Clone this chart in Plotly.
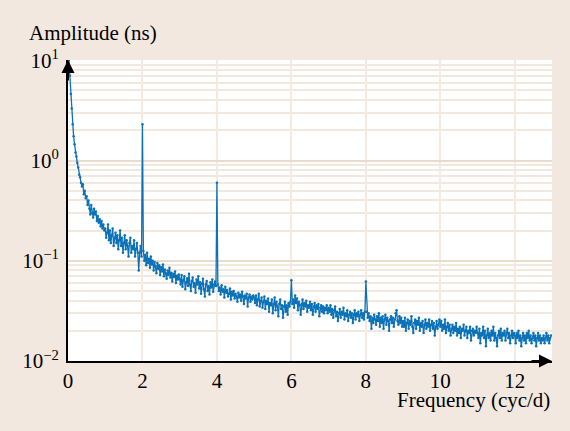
import plotly.graph_objects as go

# ---- data ----
FREQ_STEP = 0.025  # cyc/d sampling of the spectrum
amplitude_ns = [
    # 0.000 - 0.975
    9.5, 10.0, 7.0, 4.6, 3.3, 2.3, 1.75, 1.45, 1.2, 1.1,
    0.95, 0.85, 0.72, 0.68, 0.60, 0.55, 0.58, 0.46, 0.50, 0.42,
    0.44, 0.36, 0.40, 0.33, 0.29, 0.36, 0.30, 0.27, 0.33, 0.29,
    0.31, 0.25, 0.28, 0.24, 0.26, 0.22, 0.25, 0.21, 0.23, 0.20,
    # 1.000 - 1.975
    0.21, 0.17, 0.19, 0.23, 0.16, 0.20, 0.15, 0.18, 0.21, 0.14,
    0.17, 0.19, 0.15, 0.18, 0.13, 0.16, 0.20, 0.14, 0.17, 0.12,
    0.15, 0.18, 0.13, 0.16, 0.14, 0.11, 0.15, 0.17, 0.12, 0.14,
    0.13, 0.16, 0.11, 0.13, 0.15, 0.12, 0.08, 0.12, 0.14, 0.11,
    # 2.000 - 2.975
    2.3, 0.125, 0.10, 0.115, 0.09, 0.12, 0.095, 0.105, 0.085, 0.11,
    0.092, 0.10, 0.08, 0.097, 0.088, 0.075, 0.095, 0.083, 0.09, 0.072,
    0.086, 0.078, 0.092, 0.07, 0.082, 0.075, 0.066, 0.08, 0.072, 0.085,
    0.068, 0.076, 0.062, 0.074, 0.069, 0.078, 0.06, 0.071, 0.065, 0.073,
    # 3.000 - 3.975
    0.066, 0.058, 0.072, 0.055, 0.064, 0.07, 0.052, 0.061, 0.067, 0.056,
    0.074, 0.058, 0.05, 0.063, 0.068, 0.055, 0.06, 0.048, 0.065, 0.058,
    0.07, 0.053, 0.061, 0.047, 0.059, 0.066, 0.052, 0.044, 0.058, 0.063,
    0.05, 0.056, 0.046, 0.061, 0.054, 0.065, 0.049, 0.058, 0.062, 0.056,
    # 4.000 - 4.975
    0.60, 0.058, 0.05, 0.054, 0.046, 0.057, 0.049, 0.052, 0.043, 0.055,
    0.048, 0.051, 0.044, 0.047, 0.053, 0.041, 0.049, 0.045, 0.05, 0.042,
    0.047, 0.044, 0.039, 0.048, 0.043, 0.046, 0.04, 0.049, 0.044, 0.037,
    0.045, 0.042, 0.047, 0.035, 0.043, 0.046, 0.039, 0.044, 0.041, 0.045,
    # 5.000 - 5.975
    0.043, 0.038, 0.045, 0.036, 0.041, 0.047, 0.035, 0.04, 0.043, 0.034,
    0.039, 0.044, 0.033, 0.04, 0.037, 0.042, 0.031, 0.038, 0.036, 0.041,
    0.03, 0.037, 0.043, 0.032, 0.039, 0.035, 0.028, 0.037, 0.041, 0.033,
    0.036, 0.027, 0.035, 0.039, 0.031, 0.036, 0.029, 0.038, 0.035, 0.039,
    # 6.000 - 6.975
    0.064, 0.037, 0.041, 0.034, 0.045, 0.038, 0.042, 0.032, 0.039, 0.036,
    0.029, 0.037, 0.041, 0.033, 0.038, 0.035, 0.04, 0.031, 0.036, 0.034,
    0.039, 0.032, 0.037, 0.029, 0.035, 0.038, 0.031, 0.036, 0.033, 0.037,
    0.028, 0.034, 0.036, 0.031, 0.035, 0.03, 0.034, 0.032, 0.036, 0.03,
    # 7.000 - 7.975
    0.034, 0.031, 0.036, 0.029, 0.033, 0.027, 0.032, 0.035, 0.028, 0.031,
    0.025, 0.03, 0.033, 0.027, 0.031, 0.029, 0.034, 0.026, 0.03, 0.028,
    0.032, 0.025, 0.029, 0.031, 0.027, 0.03, 0.024, 0.029, 0.032, 0.026,
    0.03, 0.028, 0.031, 0.025, 0.029, 0.032, 0.027, 0.03, 0.026, 0.031,
    # 8.000 - 8.975
    0.062, 0.031, 0.027, 0.03, 0.025, 0.028, 0.021, 0.027, 0.024, 0.029,
    0.026, 0.023, 0.028, 0.025, 0.03, 0.022, 0.027, 0.024, 0.028, 0.021,
    0.026, 0.029, 0.023, 0.027, 0.025, 0.02, 0.026, 0.028, 0.024, 0.027,
    0.022, 0.026, 0.03, 0.032, 0.025, 0.023, 0.028, 0.024, 0.027, 0.022,
    # 9.000 - 9.975
    0.025, 0.022, 0.027, 0.02, 0.024, 0.026, 0.021, 0.025, 0.023, 0.028,
    0.022, 0.019, 0.024, 0.026, 0.021, 0.025, 0.023, 0.027, 0.02, 0.024,
    0.022, 0.025, 0.019, 0.023, 0.026, 0.021, 0.024, 0.022, 0.026, 0.02,
    0.023, 0.025, 0.021, 0.024, 0.018, 0.022, 0.025, 0.021, 0.023, 0.026,
    # 10.000 - 10.975
    0.022, 0.025, 0.02, 0.023, 0.021, 0.026, 0.019, 0.022, 0.024, 0.02,
    0.023, 0.018, 0.021, 0.023, 0.019, 0.022, 0.02, 0.024, 0.018, 0.021,
    0.019, 0.022, 0.017, 0.021, 0.02, 0.023, 0.018, 0.02, 0.022, 0.017,
    0.02, 0.019, 0.022, 0.016, 0.02, 0.021, 0.018, 0.02, 0.019, 0.022,
    # 11.000 - 11.975
    0.019, 0.017, 0.021, 0.015, 0.019, 0.018, 0.022, 0.017, 0.02, 0.014,
    0.018, 0.021, 0.017, 0.019, 0.016, 0.02, 0.018, 0.022, 0.016, 0.019,
    0.017, 0.014, 0.018, 0.02, 0.017, 0.021, 0.016, 0.019, 0.018, 0.02,
    0.016, 0.019, 0.021, 0.017, 0.019, 0.015, 0.018, 0.02, 0.017, 0.019,
    # 12.000 - 12.975
    0.018, 0.015, 0.019, 0.017, 0.02, 0.016, 0.018, 0.014, 0.017, 0.019,
    0.016, 0.018, 0.015, 0.019, 0.017, 0.02, 0.016, 0.018, 0.015, 0.017,
    0.019, 0.016, 0.018, 0.014, 0.017, 0.019, 0.016, 0.018, 0.015, 0.017,
    0.016, 0.018, 0.015, 0.017, 0.019, 0.016, 0.018, 0.015, 0.017, 0.018,
]
frequency_cpd = [round(i * FREQ_STEP, 3) for i in range(len(amplitude_ns))]

x_ticks = [0, 2, 4, 6, 8, 10, 12]
y_ticks = [0.01, 0.1, 1, 10]
y_ticktext = ["10<sup>\u22122</sup>", "10<sup>\u22121</sup>", "10<sup>0</sup>", "10<sup>1</sup>"]
y_minor = [m * 10.0 ** k for k in (-2, -1, 0) for m in range(2, 10)]

BG = "#f2e8df"
SERIF = "Liberation Serif, Times New Roman, serif"
FS = 21

fig = go.Figure()
fig.add_trace(go.Scatter(
    x=frequency_cpd, y=amplitude_ns, mode="lines+markers",
    line=dict(color="#0b72b8", width=1.3),
    marker=dict(color="#0b72b8", size=2.5),
    showlegend=False, hoverinfo="x+y",
))

fig.update_layout(
    width=570, height=431,
    paper_bgcolor=BG, plot_bgcolor="white",
    margin=dict(l=68, r=18, t=60, b=70),
    font=dict(family=SERIF, size=FS, color="black"),
    xaxis=dict(
        range=[0, 13], tickvals=x_ticks, ticks="", showgrid=True,
        gridcolor="#f4eae1", gridwidth=2, zeroline=False,
        showline=True, linecolor="black", linewidth=2,
        tickfont=dict(family=SERIF, size=FS), ticklabelstandoff=0,
    ),
    yaxis=dict(
        type="log", range=[-2, 1.003], tickvals=y_ticks, ticktext=y_ticktext,
        ticks="", showgrid=True, gridcolor="#e9dccd", gridwidth=2, zeroline=False,
        showline=True, linecolor="black", linewidth=2,
        tickfont=dict(family=SERIF, size=FS), ticklabelstandoff=3,
        minor=dict(tickvals=y_minor, showgrid=True, gridcolor="#f3e8dd", gridwidth=1.5, ticks=""),
    ),
    annotations=[
        dict(text="Amplitude (ns)", xref="paper", yref="paper", x=-0.085, y=1.0,
             yshift=27, xanchor="left", yanchor="middle", showarrow=False,
             font=dict(family=SERIF, size=FS)),
        dict(text="Frequency (cyc/d)", xref="paper", yref="paper", x=1.0, y=0,
             yshift=-39, xanchor="right", yanchor="middle", showarrow=False,
             font=dict(family=SERIF, size=FS)),
        # axis arrows
        dict(x=0, y=1.003, xref="x", yref="y", ax=0, ay=22, axref="pixel", ayref="pixel",
             text="", showarrow=True, arrowhead=2, arrowsize=1.3, arrowwidth=2,
             arrowcolor="black", standoff=0),
        dict(x=13, y=-2, xref="x", yref="y", ax=-22, ay=0, axref="pixel", ayref="pixel",
             text="", showarrow=True, arrowhead=2, arrowsize=1.3, arrowwidth=2,
             arrowcolor="black", standoff=0),
    ],
)

fig.write_html("out.html")
